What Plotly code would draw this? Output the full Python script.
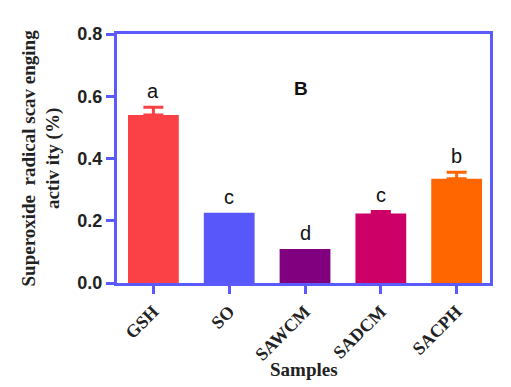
import plotly.graph_objects as go

samples = ["GSH", "SO", "SAWCM", "SADCM", "SACPH"]
values = [0.540, 0.226, 0.109, 0.223, 0.335]
errors = [0.025, 0.0, 0.0, 0.007, 0.021]
letters = ["a", "c", "d", "c", "b"]
colors = ["#FB4146", "#5858FA", "#800080", "#CC0066", "#FF6600"]

axis_color = "#5A5AFF"
xs = list(range(len(samples)))

fig = go.Figure()
fig.add_trace(go.Bar(
    x=xs, y=values, width=0.67,
    marker=dict(color=colors, line=dict(width=0)),
    showlegend=False,
))
for i in range(len(samples)):
    if errors[i] > 0:
        fig.add_trace(go.Scatter(
            x=[xs[i]], y=[values[i]], mode="markers",
            marker=dict(size=0.1, color=colors[i], opacity=0),
            error_y=dict(type="data", symmetric=False, array=[errors[i]],
                         arrayminus=[0], color=colors[i], thickness=3, width=10),
            showlegend=False, hoverinfo="skip",
        ))

for i in range(len(samples)):
    fig.add_annotation(x=xs[i], y=values[i] + errors[i], text=letters[i],
                       showarrow=False, yanchor="bottom", yshift=3,
                       font=dict(family="Liberation Sans, Arial", size=20, color="#111"))

fig.add_annotation(x=1.95, y=0.625, text="<b>B</b>", showarrow=False,
                   font=dict(family="Liberation Sans, Arial", size=19, color="#111"))

fig.add_annotation(xref="paper", yref="paper", x=0, y=0.5, xshift=-76,
                   xanchor="center", yanchor="middle", textangle=-90,
                   text="<b>Superoxide  radical scav enging<br>activ ity (%)</b>",
                   showarrow=False,
                   font=dict(family="Liberation Serif, Times New Roman", size=19, color="#222"))

fig.add_annotation(xref="paper", yref="paper", x=0.5, y=0, yshift=-86,
                   xanchor="center", yanchor="middle", text="<b>Samples</b>",
                   showarrow=False,
                   font=dict(family="Liberation Serif, Times New Roman", size=19, color="#222"))

fig.update_layout(
    width=511, height=387,
    margin=dict(l=109, r=29, t=26, b=112),
    paper_bgcolor="white", plot_bgcolor="white",
    xaxis=dict(
        range=[-0.48, 4.44], tickmode="array", tickvals=xs, ticktext=samples,
        tickangle=-45, showline=True, mirror=True, linecolor=axis_color, linewidth=3,
        ticks="outside", tickcolor=axis_color, ticklen=8, tickwidth=3,
        showgrid=False, zeroline=False, automargin=False,
        tickfont=dict(family="Liberation Serif, Times New Roman", size=18, color="#222", weight="bold"),
    ),
    yaxis=dict(
        range=[0, 0.8], tickmode="array", tickvals=[0, 0.2, 0.4, 0.6, 0.8],
        ticktext=["0.0", "0.2", "0.4", "0.6", "0.8"],
        showline=True, mirror=True, linecolor=axis_color, linewidth=3,
        ticks="outside", tickcolor=axis_color, ticklen=8, tickwidth=3,
        showgrid=False, zeroline=False, automargin=False,
        tickfont=dict(family="Liberation Sans, Arial", size=18, color="#222", weight="bold"),
    ),
)

fig.write_html("out.html")
